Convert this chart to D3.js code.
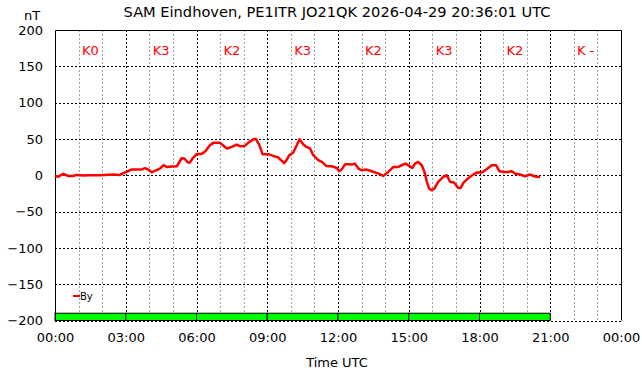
<!DOCTYPE html>
<html>
<head>
<meta charset="utf-8">
<script src="https://cdn.jsdelivr.net/npm/d3@7"></script>
<style>
  body { margin: 0; background: #fff; }
  svg text { font-family: "DejaVu Sans", sans-serif; }
</style>
</head>
<body>
<div id="chart"></div>
<script>
// data
const times = ["00:00","00:08","00:21","00:34","00:46","00:55","01:12","01:25","01:54","02:28","02:45","02:53",
  "03:03","03:15","03:41","03:49","03:57","04:06","04:14","04:27","04:36","04:44","04:57","05:10","05:22","05:29",
  "05:38","05:43","05:52","06:01","06:13","06:22","06:34","06:43","07:00","07:08","07:17","07:30","07:42","07:51",
  "08:02","08:12","08:25","08:31","08:40","08:48","09:03","09:15","09:28","09:37","09:43","09:50","09:56","10:06",
  "10:15","10:22","10:32","10:40","10:49","10:57","11:10","11:19","11:30","11:44","11:57","12:03","12:09","12:18",
  "12:26","12:35","12:43","12:52","13:00","13:13","13:26","13:43","13:55","14:08","14:21","14:34","14:42","14:52",
  "15:01","15:09","15:16","15:24","15:33","15:40","15:46","15:52","15:58","16:05","16:15","16:28","16:37","16:45",
  "16:55","17:06","17:12","17:19","17:32","17:44","17:53","18:06","18:18","18:31","18:42","18:51","19:01","19:13",
  "19:22","19:30","19:43","19:56","20:09","20:19","20:30","20:34"];
const byValues = [-1,-2,2,-1,-1,0.5,-0.5,0,0,1,0.5,2.6,
  5,8,8,9.7,7.8,4,6,9,14,11.5,12,12.4,23.4,23,
  17.5,17.5,24.4,29.4,29.4,32.6,41.4,44.6,44.6,41,36.8,39,42.3,40,
  40,45,49.6,50,41.4,29,29,26.7,24.4,19.8,16.6,21.6,27.6,31,
  41.4,49.6,42.3,39,36.8,27.6,20.7,18.4,12.9,12.4,10,5.5,7.8,15,
  15,14.7,16,9.2,6.9,7.8,5.5,2.3,-1,4.6,11.5,11.5,13.8,16,
  12.9,10,16,18.4,13.8,4.6,-9,-18.4,-20.7,-18.4,-9,-2.3,0,-9,
  -10,-17.5,-17.5,-10.6,-3.7,0.9,3.7,3.7,8.3,13.8,13.8,5.5,4.6,4.6,
  5.5,2.3,1,-1.4,1,-1.4,-2.3,-2];
const kLabels = ["K0","K3","K2","K3","K2","K3","K2","K -"];
const kBarPeriods = [0,1,2,3,4,5,6]; // 3-hour blocks that have a bar
const yTicks = [200,150,100,50,0,-50,-100,-150,-200];
const xTickLabels = ["00:00","03:00","06:00","09:00","12:00","15:00","18:00","21:00","00:00"];

const title = "SAM Eindhoven, PE1ITR JO21QK 2026-04-29 20:36:01 UTC";

const width = 642, height = 376;
const mLeft = 55, mRight = 621, mTop = 30, mBottom = 320.5;

const toMin = s => { const [h, m] = s.split(":").map(Number); return h * 60 + m; };
const series = times.map((t, i) => ({ t: toMin(t), v: byValues[i] }));

const svg = d3.select("#chart").append("svg")
  .attr("width", width).attr("height", height);

const x = d3.scaleLinear().domain([0, 1440]).range([mLeft, mRight]);
const y = d3.scaleLinear().domain([-200, 200]).range([mBottom, mTop]);

// hourly grey grid lines
const hours = d3.range(1, 24).filter(h => h % 3 !== 0);
svg.append("g").selectAll("line").data(hours).join("line")
  .attr("x1", h => Math.round(x(h * 60)) + 0.5).attr("x2", h => Math.round(x(h * 60)) + 0.5)
  .attr("y1", mTop).attr("y2", mBottom)
  .attr("stroke", "#a0a0a0").attr("stroke-dasharray", "2,2");

// black dotted grid every 3 hours
svg.append("g").selectAll("line").data(d3.range(3, 24, 3)).join("line")
  .attr("x1", h => Math.round(x(h * 60)) + 0.5).attr("x2", h => Math.round(x(h * 60)) + 0.5)
  .attr("y1", mTop).attr("y2", mBottom)
  .attr("stroke", "#000").attr("stroke-dasharray", "2,2");

// horizontal dotted grid
svg.append("g").selectAll("line").data(yTicks.filter(v => v !== 200)).join("line")
  .attr("x1", mLeft).attr("x2", mRight)
  .attr("y1", v => Math.round(y(v)) + 0.5).attr("y2", v => Math.round(y(v)) + 0.5)
  .attr("stroke", "#000").attr("stroke-dasharray", "2,2");

// K index bars
svg.append("g").selectAll("rect").data(kBarPeriods).join("rect")
  .attr("x", i => x(i * 180)).attr("width", x(180) - x(0))
  .attr("y", y(-190)).attr("height", y(-200) - y(-190))
  .attr("fill", "#00ff00").attr("stroke", "#000").attr("stroke-width", 1);

// border (left, top, right)
svg.append("path")
  .attr("d", `M${mLeft + 0.5},${mBottom} V${mTop + 0.5} H${mRight + 0.5} V${mBottom}`)
  .attr("fill", "none").attr("stroke", "#000");

// K labels
svg.append("g").selectAll("text").data(kLabels).join("text")
  .attr("x", (d, i) => x(i * 180 + 90)).attr("y", 55)
  .attr("text-anchor", "middle").attr("font-size", 13).attr("fill", "#ff0000")
  .text(d => d);

// By line
const line = d3.line().x(d => x(d.t)).y(d => y(d.v));
svg.append("path").datum(series)
  .attr("d", line).attr("fill", "none")
  .attr("stroke", "#ff0000").attr("stroke-width", 2.5).attr("stroke-linejoin", "round");

// y axis labels
const yAxis = d3.axisLeft(y).tickValues(yTicks).tickSize(0).tickPadding(12);
const gy = svg.append("g").attr("transform", `translate(${mLeft},0)`).call(yAxis);
gy.select(".domain").remove();
gy.selectAll("text").attr("font-size", 13).attr("font-family", "DejaVu Sans").attr("fill", "#000");

// x axis labels
const xAxis = d3.axisBottom(x).tickValues(d3.range(0, 1441, 180)).tickSize(0).tickPadding(12)
  .tickFormat((d, i) => xTickLabels[i]);
const gx = svg.append("g").attr("transform", `translate(0,${mBottom})`).call(xAxis);
gx.select(".domain").remove();
gx.selectAll("text").attr("font-size", 13).attr("font-family", "DejaVu Sans").attr("fill", "#000");

// titles
svg.append("text").attr("x", 337).attr("y", 17).attr("text-anchor", "middle")
  .attr("font-size", 14.6).text(title);
svg.append("text").attr("x", 32).attr("y", 20).attr("text-anchor", "middle")
  .attr("font-size", 13).text("nT");
svg.append("text").attr("x", 337).attr("y", 367).attr("text-anchor", "middle")
  .attr("font-size", 13).text("Time UTC");

// legend
svg.append("line").attr("x1", 73).attr("x2", 80).attr("y1", 296).attr("y2", 296)
  .attr("stroke", "#ff0000").attr("stroke-width", 2);
svg.append("text").attr("x", 80).attr("y", 300).attr("font-size", 10).text("By");
</script>
</body>
</html>
